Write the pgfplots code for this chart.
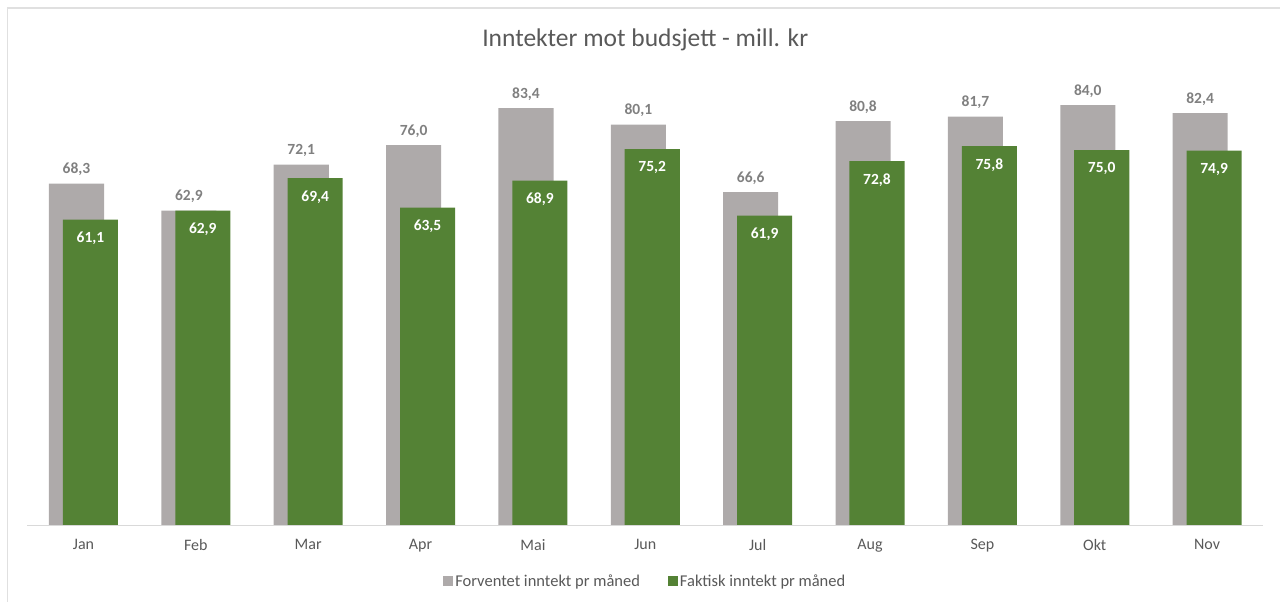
\documentclass[border=0pt]{standalone}
\usepackage{fontspec}
\setmainfont{Carlito}
\usepackage{pgfplots}
\pgfplotsset{compat=1.18}

\definecolor{forv}{HTML}{AEAAAA}
\definecolor{fakt}{HTML}{548235}
\definecolor{txt}{HTML}{595959}
\definecolor{lbl}{HTML}{808080}

\begin{document}
\begin{tikzpicture}
\path[use as bounding box] (0,0) rectangle (1280bp,602bp);
\draw[black!12, line width=1.5bp] (7.5bp,0) |- (1280bp,594bp);

\begin{axis}[
    at={(27.3bp,77bp)}, anchor=south west,
    scale only axis,
    width=1236bp, height=450bp,
    xmin=-0.5, xmax=10.5,
    ymin=0, ymax=90,
    axis y line=none,
    axis x line*=bottom,
    x axis line style={draw=black!15, line width=1bp, -},
    xtick={0,...,10},
    xticklabels={Jan,Feb,Mar,Apr,Mai,Jun,Jul,Aug,Sep,Okt,Nov},
    major tick length=0pt,
    xticklabel style={font=\fontsize{16bp}{19bp}\selectfont, text=txt, yshift=-11bp},
    ybar, bar width=0.49,
    title={Inntekter mot budsjett - mill. kr},
    title style={at={(0.5,1)}, yshift=29bp, anchor=center, font=\fontsize{25.5bp}{30bp}\selectfont, text=txt},
    /pgf/number format/.cd, fixed, fixed zerofill, precision=1, use comma, assume math mode=true,
    /pgfplots/.cd,
    legend columns=2,
    legend style={at={(axis description cs:0.5,0)}, anchor=center, yshift=-56bp,
        draw=none, font=\fontsize{16.5bp}{19bp}\selectfont, text=txt,
        /tikz/every even column/.append style={column sep=26bp}},
    legend image code/.code={\fill[#1] (0bp,-5bp) rectangle (10bp,5bp);},
]

\addplot[fill=forv, draw=none, bar shift=-0.062,
    nodes near coords,
    every node near coord/.append style={font=\bfseries\fontsize{15.5bp}{18bp}\selectfont, text=lbl, yshift=4bp}]
    coordinates {
    (0,68.3)(1,62.9)(2,72.1)(3,76.0)(4,83.4)(5,80.1)(6,66.6)(7,80.8)(8,81.7)(9,84.0)(10,82.4)
    };
\addlegendentry{Forventet inntekt pr måned}

\addplot[fill=fakt, draw=none, bar shift=0.062,
    nodes near coords,
    every node near coord/.append style={font=\bfseries\fontsize{15.5bp}{18bp}\selectfont, text=white, anchor=north, yshift=-9bp}]
    coordinates {
    (0,61.1)(1,62.9)(2,69.4)(3,63.5)(4,68.9)(5,75.2)(6,61.9)(7,72.8)(8,75.8)(9,75.0)(10,74.9)
    };
\addlegendentry{Faktisk inntekt pr måned}

\end{axis}
\end{tikzpicture}
\end{document}
